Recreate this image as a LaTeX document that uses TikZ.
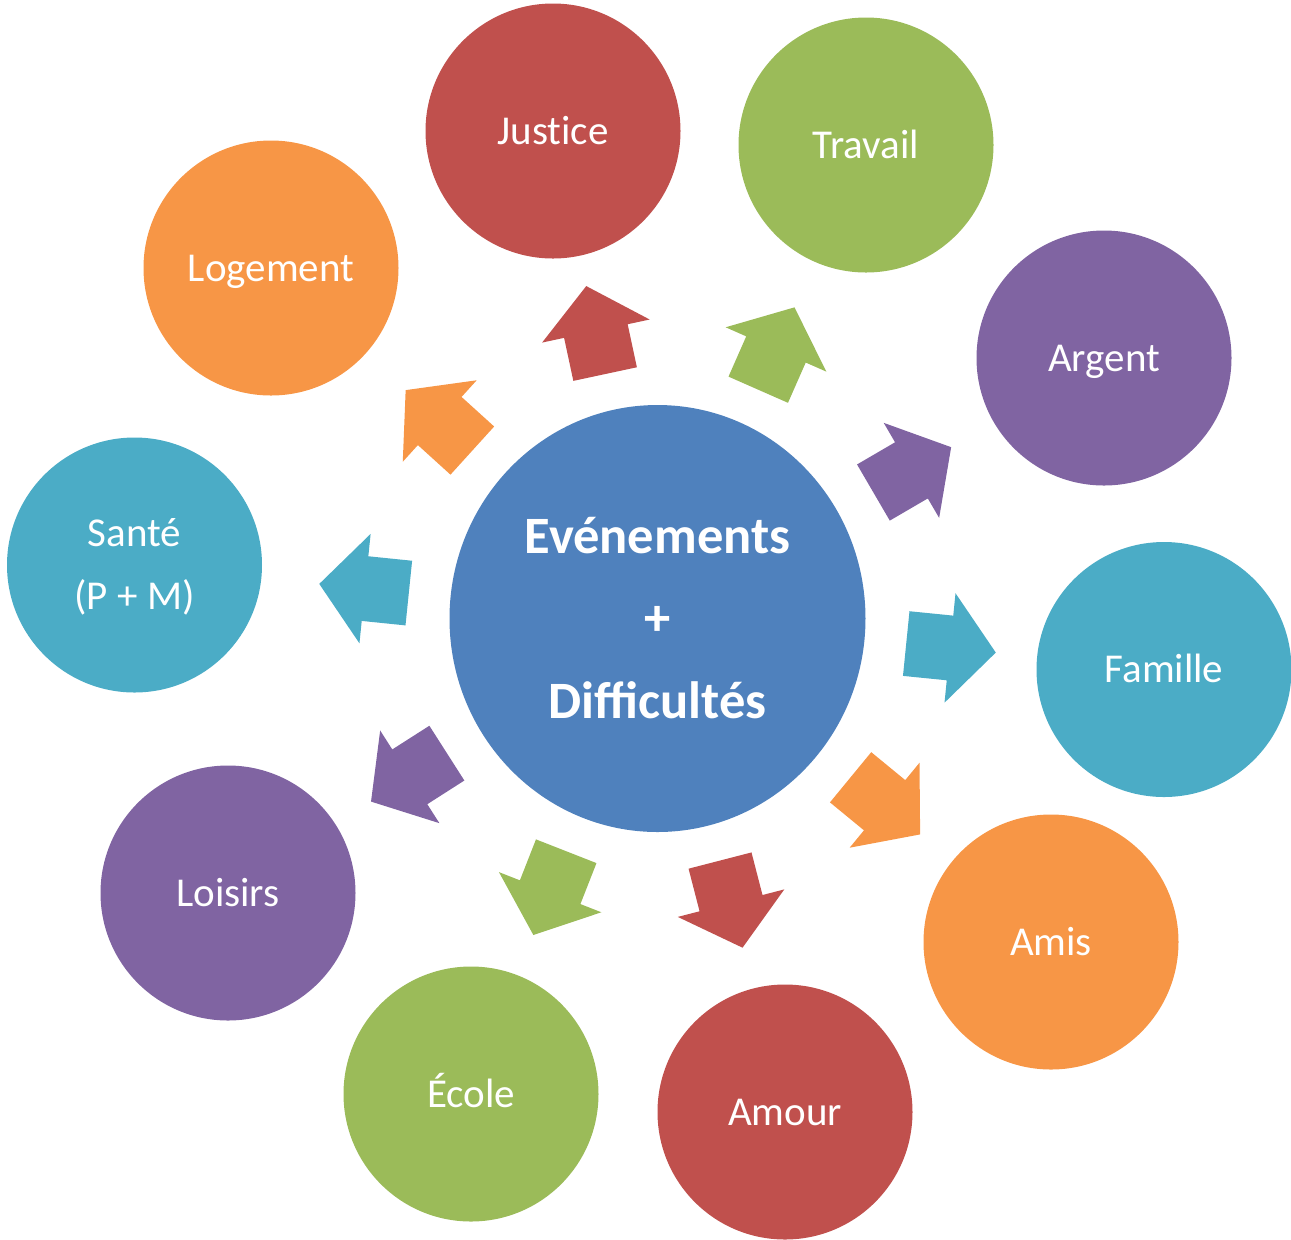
\documentclass[tikz,border=0pt]{standalone}
\usepackage{fontspec}
\setmainfont{Carlito}
\usetikzlibrary{calc,shapes.geometric}
\definecolor{cblue}{HTML}{4F81BD}
\definecolor{cred}{HTML}{C0504D}
\definecolor{cgreen}{HTML}{9BBB59}
\definecolor{cpurple}{HTML}{8064A2}
\definecolor{cteal}{HTML}{4BACC6}
\definecolor{corange}{HTML}{F79646}
\tikzset{
  bubble/.style={circle, fill=#1, minimum size=127.5pt, inner sep=0pt, text=white,
    font=\fontsize{20.5}{24}\selectfont, text height=13.2pt, text depth=0pt},
  core/.style={ellipse, fill=cblue, minimum width=208pt, minimum height=213.5pt,
    inner sep=0pt, text=white, font=\fontsize{26.25}{41.25}\selectfont\bfseries,
    align=center, text height=99.5pt, text depth=0pt}
}
\newcommand\blockarrow[2]{%
  \path ($(core)!125pt!(#1)$) coordinate (#1a0)
        ($(core)!147pt!(#1)$) coordinate (#1a1)
        ($(core)!170pt!(#1)$) coordinate (#1a2);
  \fill[#2] ($(#1a0)!16.25pt!90:(#1a2)$) -- ($(#1a1)!16.25pt!90:(#1a2)$)
    -- ($(#1a1)!27.5pt!90:(#1a2)$) -- (#1a2) -- ($(#1a1)!27.5pt!-90:(#1a2)$)
    -- ($(#1a1)!16.25pt!-90:(#1a2)$) -- ($(#1a0)!16.25pt!-90:(#1a2)$) -- cycle;}
\begin{document}
\begin{tikzpicture}[x=0.5pt, y=-0.5pt]
\useasboundingbox (0,0) rectangle (1291,1239);
\node[core] (core) at (657.5,618.5) {Evénements\\+\\Difficultés};
\node[bubble=cred] (justice) at (553,131) {Just\kern0pt ice};
\node[bubble=cgreen] (travail) at (866,145) {Travail};
\node[bubble=cpurple] (argent) at (1104,358) {Argent};
\node[bubble=cteal] (famille) at (1164,669.5) {Famille};
\node[bubble=corange] (amis) at (1051,942) {Amis};
\node[bubble=cred] (amour) at (785,1112) {Amour};
\node[bubble=cgreen] (ecole) at (471,1094) {École};
\node[bubble=cpurple] (loisirs) at (228,893) {Loisirs};
\node[bubble=cteal, align=center, font=\fontsize{20.5}{31.5}\selectfont,
      text height=44.7pt, text depth=0pt] (sante) at (134.5,565) {Santé\\(P + M)};
\node[bubble=corange] (logement) at (271,268) {Logement};
\blockarrow{justice}{cred}
\blockarrow{travail}{cgreen}
\blockarrow{argent}{cpurple}
\blockarrow{famille}{cteal}
\blockarrow{amis}{corange}
\blockarrow{amour}{cred}
\blockarrow{ecole}{cgreen}
\blockarrow{loisirs}{cpurple}
\blockarrow{sante}{cteal}
\blockarrow{logement}{corange}
\end{tikzpicture}
\end{document}
